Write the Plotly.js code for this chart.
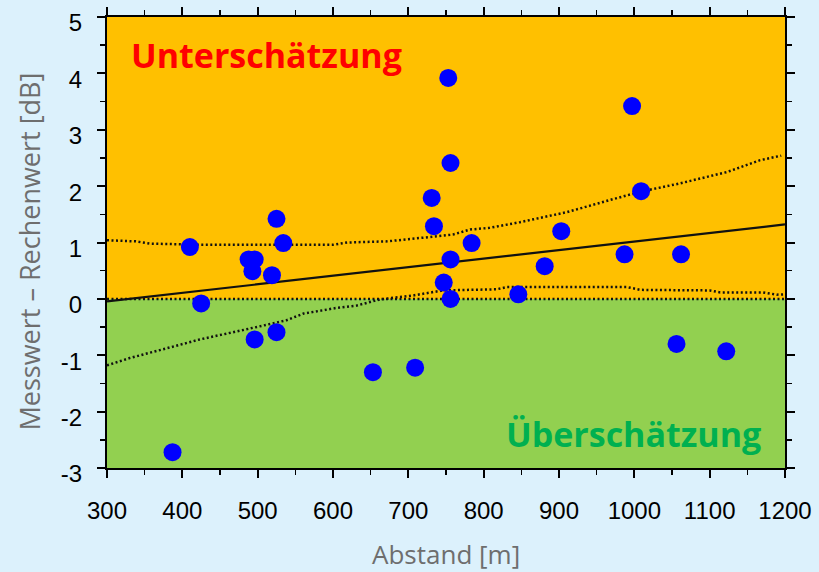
<!DOCTYPE html>
<html>
<head>
<meta charset="utf-8">
<script src="https://cdn.plot.ly/plotly-3.0.1.min.js"></script>
<style>
html,body{margin:0;padding:0;background:#dcf1fc;}
#chart{width:819px;height:572px;}
</style>
</head>
<body>
<div id="chart"></div>
<script>
// Measured points: distance [m] and measured minus calculated [dB]
const abstand = [387, 410, 425, 488, 496, 493, 519, 525, 534, 496, 525, 653, 709,
                 753, 756, 731, 734, 784, 756, 747, 756, 846, 881, 903, 987, 997, 1009, 1062, 1056, 1122];
const differenz = [-2.72, 0.92, -0.08, 0.70, 0.70, 0.49, 0.42, 1.42, 0.99, -0.72, -0.59, -1.30, -1.22,
                   3.92, 2.41, 1.79, 1.29, 0.99, 0.70, 0.29, 0.00, 0.08, 0.58, 1.20, 0.79, 3.42, 1.91, 0.79, -0.80, -0.93];

// Regression line
const fitX = [300, 1200];
const fitY = [-0.045, 1.32];

// Upper confidence band
const upperX = [300, 338, 357, 427, 600, 619, 672, 715, 759, 782, 808, 848, 911, 972, 1008, 1061, 1123, 1167, 1195];
const upperY = [1.04, 1.02, 0.98, 0.96, 0.96, 1.00, 1.02, 1.08, 1.14, 1.23, 1.26, 1.36, 1.54, 1.77, 1.90, 2.05, 2.25, 2.46, 2.54];

// Lower confidence band
const lowerX = [300, 330, 384, 423, 485, 538, 561, 605, 631, 662, 706, 746, 817, 831, 990, 1008, 1100, 1114, 1171, 1189, 1200];
const lowerY = [-1.18, -1.05, -0.86, -0.72, -0.54, -0.38, -0.26, -0.16, -0.12, -0.01, 0.06, 0.15, 0.17, 0.21, 0.21, 0.16, 0.15, 0.115, 0.115, 0.075, 0.08];

const xRange = [300, 1200];
const yRange = [-3, 5];
const xTicks = [300, 400, 500, 600, 700, 800, 900, 1000, 1100, 1200];
const yTicks = [-3, -2, -1, 0, 1, 2, 3, 4, 5];
const yTickText = ['-3', '-2', '-1', '0', '1', '2', '3', '4', '5'];

const labelOver = 'Unterschätzung';
const labelUnder = 'Überschätzung';
const xTitle = 'Abstand [m]';
const yTitle = 'Messwert – Rechenwert [dB]';

const dotLine = {color: '#111', width: 2.5, dash: '2px,2.5px'};

const traces = [
  {x: xRange, y: [0, 0], mode: 'lines', line: dotLine, hoverinfo: 'skip'},
  {x: upperX, y: upperY, mode: 'lines', line: dotLine, hoverinfo: 'skip'},
  {x: lowerX, y: lowerY, mode: 'lines', line: dotLine, hoverinfo: 'skip'},
  {x: fitX, y: fitY, mode: 'lines', line: {color: '#111', width: 2.2}, hoverinfo: 'skip'},
  {x: abstand, y: differenz, mode: 'markers',
   marker: {color: '#0000ff', size: 18, line: {width: 0}}}
];

const axisCommon = {
  showline: true, linecolor: '#000', linewidth: 2, mirror: 'ticks',
  ticks: 'outside', ticklen: 8, tickwidth: 2, tickcolor: '#000',
  showgrid: false, zeroline: false,
  tickfont: {family: 'Liberation Sans, Arial, sans-serif', size: 24, color: '#000'}
};

const layout = {
  width: 819, height: 572,
  paper_bgcolor: '#dcf1fc', plot_bgcolor: '#ffc000',
  margin: {l: 107, r: 34, t: 17, b: 104},
  showlegend: false,
  xaxis: Object.assign({}, axisCommon, {
    range: xRange, tickvals: xTicks, ticklabelstandoff: 12,
    minor: {dtick: 50, ticks: 'outside', ticklen: 5, tickwidth: 1.5, tickcolor: '#000', showgrid: false}
  }),
  yaxis: Object.assign({}, axisCommon, {
    range: yRange, tickvals: yTicks, ticktext: yTickText, ticklabelstandoff: 10, ticklabelshift: 6,
    ticklabeloverflow: 'allow',
    minor: {dtick: 0.5, ticks: 'outside', ticklen: 5, tickwidth: 1.5, tickcolor: '#000', showgrid: false}
  }),
  shapes: [
    {type: 'rect', xref: 'x', yref: 'y', x0: xRange[0], x1: xRange[1], y0: yRange[0], y1: 0,
     fillcolor: '#92d050', line: {width: 0}, layer: 'below'},
    {type: 'rect', xref: 'x', yref: 'y', x0: xRange[0], x1: xRange[1], y0: 0, y1: yRange[1],
     fillcolor: '#ffc000', line: {width: 0}, layer: 'below'}
  ],
  annotations: [
    {text: labelOver, xref: 'paper', yref: 'paper', x: 0.235, y: 0.915, xanchor: 'center', yanchor: 'middle',
     showarrow: false, font: {family: 'Open Sans, sans-serif', size: 34, color: '#ff0000', weight: 700}},
    {text: labelUnder, xref: 'paper', yref: 'paper', x: 0.967, y: 0.076, xanchor: 'right', yanchor: 'middle',
     showarrow: false, font: {family: 'Open Sans, sans-serif', size: 34, color: '#00b050', weight: 700}},
    {text: xTitle, xref: 'paper', yref: 'paper', x: 0.5, y: -0.19, xanchor: 'center', yanchor: 'middle',
     showarrow: false, font: {family: 'Open Sans, sans-serif', size: 26, color: '#6e6e6e'}},
    {text: yTitle, xref: 'paper', yref: 'paper', x: -0.115, y: 0.48, xanchor: 'center', yanchor: 'middle',
     textangle: -90, showarrow: false, font: {family: 'Open Sans, sans-serif', size: 27, color: '#6e6e6e'}}
  ]
};

Plotly.newPlot('chart', traces, layout, {displayModeBar: false, staticPlot: true});
</script>
</body>
</html>
